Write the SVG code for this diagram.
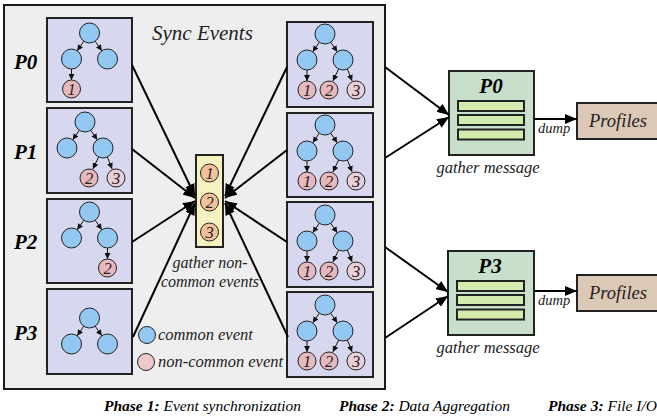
<svg xmlns="http://www.w3.org/2000/svg" xmlns:xlink="http://www.w3.org/1999/xlink" width="657" height="420" viewBox="0 0 657 420">
  <style>
    .frame { fill: #eeeeee; stroke: #1a1a1a; stroke-width: 2; }
    .proc { fill: #d7d8f0; stroke: #222; stroke-width: 2; }
    .blue { fill: #92c8f2; stroke: #222; stroke-width: 1; }
    .pink { fill: #e7b8be; stroke: #222; stroke-width: 1; }
    .pink3 { fill: #e9cfd9; stroke: #222; stroke-width: 1; }
    .orange { fill: #f3c29c; stroke: #222; stroke-width: 1; }
    .tedge { stroke: #111; stroke-width: 1; fill: none; marker-end: url(#tip); }
    .conn { stroke: #000; stroke-width: 2; fill: none; marker-end: url(#head); }
    .num { font-family: "Liberation Serif", serif; font-style: italic; font-size: 16.5px; text-anchor: middle; fill: #222; }
    .plabel { font-family: "Liberation Serif", serif; font-style: italic; font-weight: bold; font-size: 21px; fill: #000; }
    .it { font-family: "Liberation Serif", serif; font-style: italic; fill: #222; }
    .ph { font-family: "Liberation Serif", serif; font-style: italic; font-size: 15.5px; fill: #000; }
    .gather { fill: #c8dfcc; stroke: #222; stroke-width: 2; }
    .bar { fill: #d4ebae; stroke: #222; stroke-width: 2; }
    .prof { fill: #dcc8b6; stroke: #222; stroke-width: 2; }
    .ybox { fill: #f6f1c0; stroke: #222; stroke-width: 2; }
  </style>
  <defs>
    <marker id="tip" markerUnits="userSpaceOnUse" markerWidth="6" markerHeight="6" refX="6" refY="3" orient="auto">
      <path d="M0,0 L6,3 L0,6 z" fill="#111"/>
    </marker>
    <marker id="head" markerUnits="userSpaceOnUse" markerWidth="12" markerHeight="10" refX="12" refY="5" orient="auto">
      <path d="M0,0 L12,5 L0,10 z" fill="#000"/>
    </marker>
    <!-- root with two common children -->
    <g id="top3">
      <path class="tedge" d="M-5.7,8.2 L-12.3,17.8"/>
      <path class="tedge" d="M5.7,8.2 L12.3,17.8"/>
      <circle class="blue" cx="0" cy="0" r="10"/>
      <circle class="blue" cx="-18" cy="26" r="10"/>
      <circle class="blue" cx="18" cy="26" r="10"/>
    </g>
    <!-- full tree with three non-common events -->
    <g id="fulltree">
      <use xlink:href="#top3"/>
      <path class="tedge" d="M-18,36 L-18,47"/>
      <path class="tedge" d="M13.6,35 L7.9,46.9"/>
      <path class="tedge" d="M22.4,35 L27.1,46.9"/>
      <circle class="pink" cx="-18" cy="56" r="9"/>
      <circle class="pink" cx="4" cy="56" r="9"/>
      <circle class="pink3" cx="31" cy="56" r="9"/>
      <text class="num" x="-18" y="61.5">1</text>
      <text class="num" x="4" y="61.5">2</text>
      <text class="num" x="31" y="61.5">3</text>
    </g>
  </defs>

  <!-- phase 1 frame -->
  <rect class="frame" x="4" y="5" width="381" height="384"/>
  <text class="it" x="152" y="40" font-size="21">Sync Events</text>

  <!-- process labels -->
  <text class="plabel" x="14" y="69">P0</text>
  <text class="plabel" x="14" y="159">P1</text>
  <text class="plabel" x="14" y="249">P2</text>
  <text class="plabel" x="14" y="340">P3</text>

  <g id="left-p0">
    <rect class="proc" x="47" y="18" width="85" height="84"/>
    <g transform="translate(89.5,33)">
      <use xlink:href="#top3"/>
      <path class="tedge" d="M-18,36 L-18,47"/>
      <circle class="pink" cx="-18" cy="56" r="9"/>
      <text class="num" x="-18" y="61.5">1</text>
    </g>
  </g>
  <g id="left-p1">
    <rect class="proc" x="47" y="108" width="85" height="85"/>
    <g transform="translate(85,122)">
      <use xlink:href="#top3"/>
      <path class="tedge" d="M13.6,35 L7.9,46.9"/>
      <path class="tedge" d="M22.4,35 L27.1,46.9"/>
      <circle class="pink" cx="4" cy="56" r="9"/>
      <circle class="pink3" cx="31" cy="56" r="9"/>
      <text class="num" x="4" y="61.5">2</text>
      <text class="num" x="31" y="61.5">3</text>
    </g>
  </g>
  <g id="left-p2">
    <rect class="proc" x="47" y="199" width="85" height="84"/>
    <g transform="translate(89.5,212)">
      <use xlink:href="#top3"/>
      <path class="tedge" d="M18,36 L18,47"/>
      <circle class="pink" cx="18" cy="56" r="9"/>
      <text class="num" x="18" y="61.5">2</text>
    </g>
  </g>
  <g id="left-p3">
    <rect class="proc" x="47" y="289" width="85" height="85"/>
    <g transform="translate(89.5,318)">
      <use xlink:href="#top3"/>
    </g>
  </g>

  <g id="right-p0">
    <rect class="proc" x="287" y="22" width="86" height="85"/>
    <use xlink:href="#fulltree" transform="translate(325,34)"/>
  </g>
  <g id="right-p1">
    <rect class="proc" x="287" y="113" width="86" height="84"/>
    <use xlink:href="#fulltree" transform="translate(325,125)"/>
  </g>
  <g id="right-p2">
    <rect class="proc" x="287" y="202" width="86" height="85"/>
    <use xlink:href="#fulltree" transform="translate(325,215)"/>
  </g>
  <g id="right-p3">
    <rect class="proc" x="287" y="292" width="86" height="85"/>
    <use xlink:href="#fulltree" transform="translate(325,305)"/>
  </g>

  <!-- gathered non-common events -->
  <g id="gathered">
    <rect class="ybox" x="196" y="155" width="27" height="92"/>
    <circle class="orange" cx="209.5" cy="173" r="9"/>
    <circle class="orange" cx="209.5" cy="202" r="9"/>
    <circle class="orange" cx="209.5" cy="232" r="9"/>
    <text class="num" x="209.5" y="178.5">1</text>
    <text class="num" x="209.5" y="207.5">2</text>
    <text class="num" x="209.5" y="237.5">3</text>
    <text class="it" x="210" y="268" font-size="16" text-anchor="middle">gather non-</text>
    <text class="it" x="210" y="287" font-size="16" text-anchor="middle">common events</text>
  </g>

  <!-- legend -->
  <g id="legend">
    <circle class="blue" cx="147" cy="335" r="8.5"/>
    <circle cx="146" cy="362" r="8.5" fill="#efc9c9" stroke="#222" stroke-width="1"/>
    <text class="it" x="158" y="339.5" font-size="16.5">common event</text>
    <text class="it" x="158" y="366.5" font-size="16.5">non-common event</text>
  </g>

  <!-- phase 2: gather nodes -->
  <g id="gather-p0">
    <rect class="gather" x="449" y="71" width="85" height="84"/>
    <text class="plabel" x="491" y="93" text-anchor="middle" font-size="22">P0</text>
    <rect class="bar" x="458" y="101" width="66" height="10"/>
    <rect class="bar" x="458" y="115" width="66" height="10"/>
    <rect class="bar" x="458" y="129.5" width="66" height="10"/>
    <text class="it" x="488" y="173" font-size="16.5" text-anchor="middle">gather message</text>
  </g>
  <g id="gather-p3">
    <rect class="gather" x="448" y="251" width="86" height="84"/>
    <text class="plabel" x="490" y="273" text-anchor="middle" font-size="22">P3</text>
    <rect class="bar" x="457" y="281" width="67" height="10"/>
    <rect class="bar" x="457" y="295" width="67" height="10"/>
    <rect class="bar" x="457" y="309.5" width="67" height="10"/>
    <text class="it" x="488" y="353" font-size="16.5" text-anchor="middle">gather message</text>
  </g>

  <!-- phase 3: profile output -->
  <g id="profiles-p0">
    <rect class="prof" x="577" y="103" width="82" height="36"/>
    <text class="it" x="618" y="127" font-size="18.5" text-anchor="middle">Profiles</text>
  </g>
  <g id="profiles-p3">
    <rect class="prof" x="577" y="275" width="82" height="36"/>
    <text class="it" x="618" y="299" font-size="18.5" text-anchor="middle">Profiles</text>
  </g>

  <!-- connectors -->
  <g id="connectors">
    <path class="conn" d="M132,65 L195,196"/>
    <path class="conn" d="M132,149 L195,198"/>
    <path class="conn" d="M132,242 L195,201"/>
    <path class="conn" d="M133,337 L195,203"/>
    <path class="conn" d="M287,67 L225,196"/>
    <path class="conn" d="M287,150 L225,198"/>
    <path class="conn" d="M287,242 L225,201"/>
    <path class="conn" d="M288,337 L225,203"/>
    <path class="conn" d="M385,67 L449,115"/>
    <path class="conn" d="M385,158 L449,117"/>
    <path class="conn" d="M385,247 L448,292"/>
    <path class="conn" d="M385,338 L448,296"/>
    <path class="conn" d="M534,119 L577,119"/>
    <path class="conn" d="M534,291 L577,291"/>
    <text class="it" x="538" y="133" font-size="14.5">dump</text>
    <text class="it" x="538" y="305" font-size="14.5">dump</text>
  </g>

  <!-- phase captions -->
  <text class="ph" x="104" y="411"><tspan font-weight="bold">Phase 1:</tspan> Event synchronization</text>
  <text class="ph" x="339" y="411"><tspan font-weight="bold">Phase 2:</tspan> Data Aggregation</text>
  <text class="ph" x="548" y="411"><tspan font-weight="bold">Phase 3:</tspan> File I/O</text>
</svg>
